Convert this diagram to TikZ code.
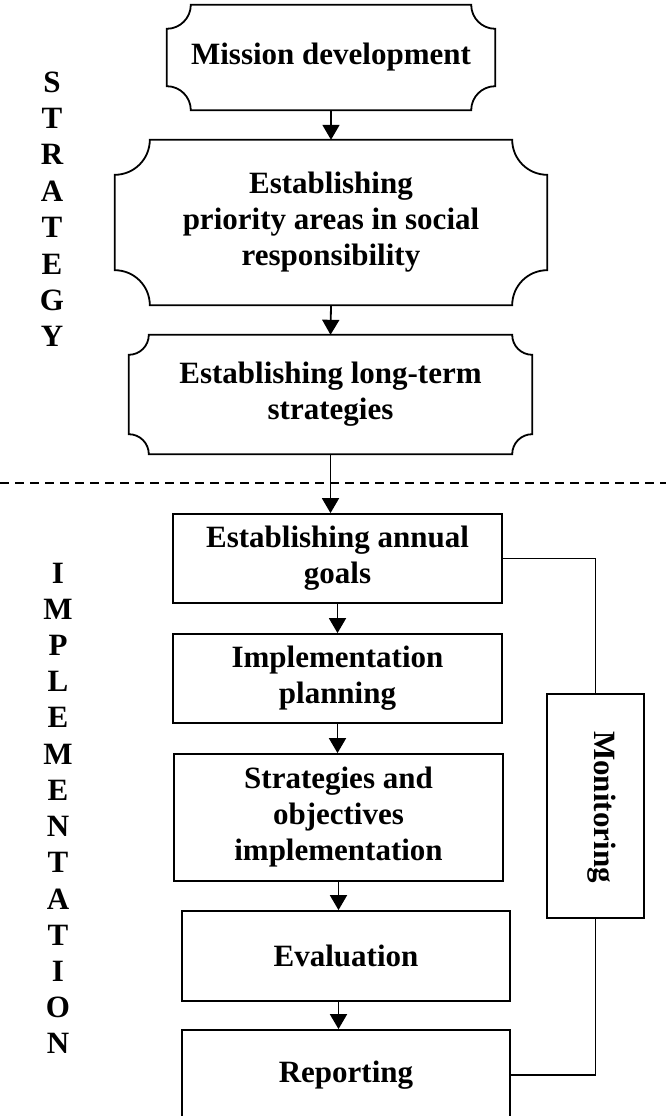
\documentclass[tikz,border=0pt]{standalone}
\usepackage{fontspec}
\setmainfont{Liberation Serif}
\usetikzlibrary{arrows.meta}

\tikzset{
    boxtext/.style={font=\bfseries\fontsize{31}{36}\selectfont, align=center, inner sep=0pt},
    plaque/.style={boxtext},
    stagebox/.style={boxtext, draw, line width=1.8pt},
    sideletter/.style={font=\bfseries\fontsize{31}{36}\selectfont, inner sep=0pt},
    flow/.style={line width=1.8pt, -{Triangle[width=17pt,length=15pt]}},
    link/.style={line width=1.8pt},
    divider/.style={line width=1.5pt, dash pattern=on 9pt off 6pt},
}

% border with concave corners round a plaque node
\newcommand{\plaqueborder}[2]{%
    \draw[line width=1.8pt] ([xshift=#2pt]#1.north west) -- ([xshift=-#2pt]#1.north east)
        arc[start angle=180, end angle=270, radius=#2pt]
        -- ([yshift=#2pt]#1.south east)
        arc[start angle=90, end angle=180, radius=#2pt]
        -- ([xshift=#2pt]#1.south west)
        arc[start angle=0, end angle=90, radius=#2pt]
        -- ([yshift=-#2pt]#1.north west)
        arc[start angle=270, end angle=360, radius=#2pt] -- cycle;}

\begin{document}
\begin{tikzpicture}[x=1pt, y=1pt]
        \useasboundingbox (0,0) rectangle (666,-1116);

        % Defining the strategy boxes
        \node[plaque, minimum width=328pt, minimum height=105pt] (mission) at (331,-57.5) {Mission development};
        \node[plaque, minimum width=432pt, minimum height=165pt] (priority) at (331,-222.5) {Establishing\\priority areas in social\\responsibility};
        \node[plaque, minimum width=403pt, minimum height=119pt] (longterm) at (330.5,-394.5) {Establishing long-term\\strategies};
        \plaqueborder{mission}{24}
        \plaqueborder{priority}{35}
        \plaqueborder{longterm}{20}

        % Defining the implementation boxes
        \node[stagebox, minimum width=329pt, minimum height=89pt] (annual) at (337.5,-558.5) {Establishing annual\\goals};
        \node[stagebox, minimum width=329pt, minimum height=89pt] (planning) at (337.5,-678.5) {Implementation\\planning};
        \node[stagebox, minimum width=329pt, minimum height=127pt] (objectives) at (338.5,-817.5) {Strategies and\\objectives\\implementation};
        \node[stagebox, minimum width=328pt, minimum height=90pt] (evaluation) at (346,-956) {Evaluation};
        \node[stagebox, minimum width=328pt, minimum height=90pt] (reporting) at (346,-1075) {Reporting};
        \node[stagebox, minimum width=97pt, minimum height=224pt] (monitor) at (595.5,-806) {};
        \node[boxtext, rotate=-90] (monitortext) at (602,-807) {Monitoring};

        % Side labels
        \foreach \ch [count=\i] in {S,T,R,A,T,E,G,Y}
            \node[sideletter] (strat\i) at (52,{-82-36.4*(\i-1)}) {\ch};
        \foreach \ch [count=\i] in {I,M,P,L,E,M,E,N,T,A,T,I,O,N}
            \node[sideletter] (impl\i) at (58,{-573-36.2*(\i-1)}) {\ch};

        % Dividing line
        \coordinate (divleft) at (0,-483);
        \coordinate (divright) at (666,-483);
        \draw[divider] (divleft) -- (divright);

        % Links between the boxes
        \draw[flow] (mission.south) -- (priority.north);
        \draw[flow] (priority.south) -- (longterm.north);
        \draw[flow] (longterm.south) -- (longterm.south |- annual.north);
        \draw[flow] (annual.south) -- (planning.north);
        \draw[flow] (planning.south) -- (planning.south |- objectives.north);
        \draw[flow] (objectives.south) -- (objectives.south |- evaluation.north);
        \draw[flow] (objectives.south |- evaluation.south) -- (objectives.south |- reporting.north);

        % Monitoring links
        \draw[link] (annual.east) -| (monitor.north);
        \draw[link] (reporting.east) -| (monitor.south);
\end{tikzpicture}
\end{document}
